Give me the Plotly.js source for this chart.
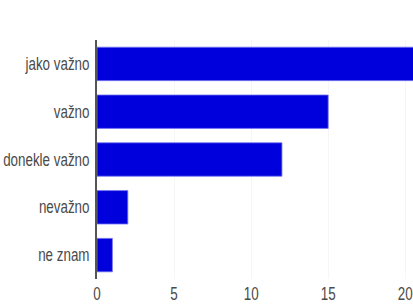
<!DOCTYPE html>
<html><head><meta charset="utf-8">
<script src="https://cdn.plot.ly/plotly-3.0.1.min.js"></script>
<style>html,body{margin:0;padding:0;overflow:hidden;background:#fff;width:413px;height:304px}</style>
</head><body><div id="chart"></div>
<script>
const categories = ["jako važno", "važno", "donekle važno", "nevažno", "ne znam"];
const counts = [21, 15, 12, 2, 1];
const xTicks = [0, 5, 10, 15, 20];

const trace = {
  type: "bar",
  orientation: "h",
  y: categories,
  x: counts,
  marker: {color: "#0000dd", line: {color: "rgba(120,120,240,0.8)", width: 1}},
  hoverinfo: "none"
};
const layout = {
  width: 470, height: 304,
  margin: {l: 97, r: 0, t: 40, b: 25},
  paper_bgcolor: "#fff", plot_bgcolor: "#fff",
  bargap: 0.3,
  showlegend: false,
  font: {family: "Liberation Sans, Arial, sans-serif", size: 17.5, color: "#4a4a4a"},
  xaxis: {range: [0, 24.2], tickvals: xTicks, ticktext: xTicks.map(String), showgrid: true, gridcolor: "#f6f6f6", zeroline: false, showline: false, ticks: "", ticklabelstandoff: 2},
  yaxis: {categoryorder: "array", categoryarray: categories.slice().reverse(), showline: true, linecolor: "#555", linewidth: 2, showgrid: false, ticks: "", ticklabelstandoff: 2}
};
function condense() {
  document.querySelectorAll("#chart .xtick text, #chart .ytick text").forEach(t => {
    const len = t.getComputedTextLength();
    t.setAttribute("textLength", (len * 0.765).toFixed(2));
    t.setAttribute("lengthAdjust", "spacingAndGlyphs");
  });
}
Plotly.newPlot("chart", [trace], layout, {staticPlot: true, displayModeBar: false}).then(condense);
</script></body></html>
